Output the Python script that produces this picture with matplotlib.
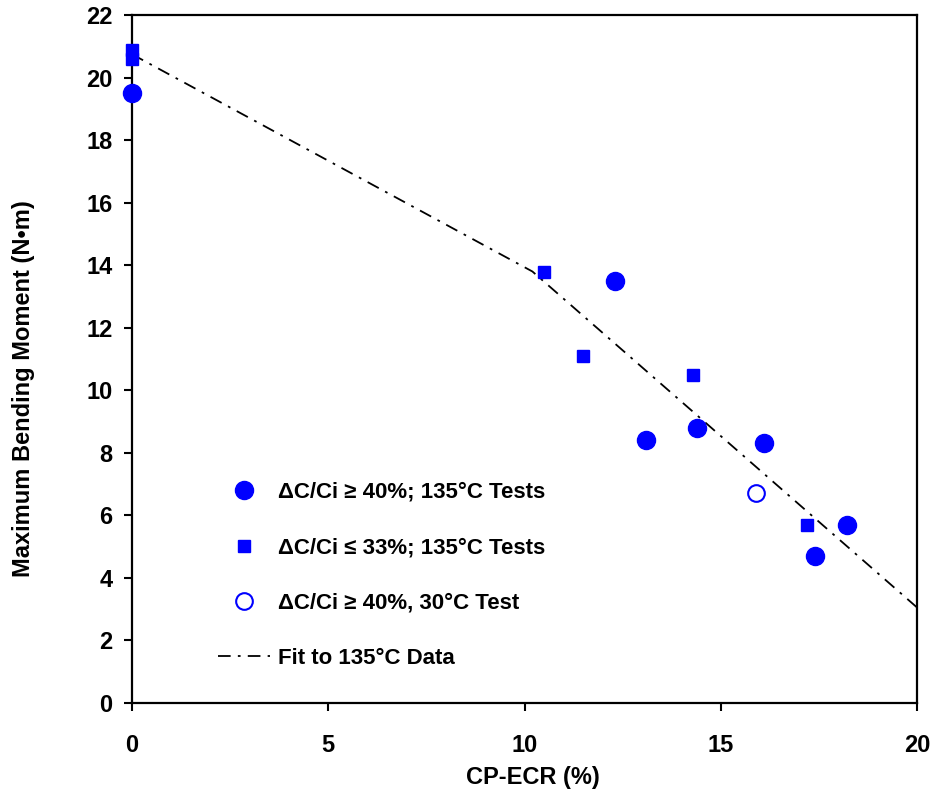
import matplotlib
matplotlib.use('Agg')
import matplotlib.pyplot as plt
import numpy as np

# dC/Ci >= 40%, 135C tests (filled circles)
circ_x = [0.0, 12.3, 13.1, 14.4, 16.1, 17.4, 18.2]
circ_y = [19.5, 13.5, 8.4, 8.8, 8.3, 4.7, 5.7]
# dC/Ci <= 33%, 135C tests (squares)
sq_x = [0.0, 0.0, 10.5, 11.5, 14.3, 17.2]
sq_y = [20.9, 20.6, 13.8, 11.1, 10.5, 5.7]
# dC/Ci >= 40%, 30C test (open circle)
open_x = [15.9]
open_y = [6.7]
# fit to 135C data
fit_x = [0.0, 10.2, 20.0]
fit_y = [20.75, 13.8, 3.05]

plt.rcParams['font.family'] = ['Liberation Sans', 'DejaVu Sans']
plt.rcParams['font.weight'] = 'bold'

fig = plt.figure(figsize=(9.32, 7.97), dpi=100)
ax = fig.add_axes([0.1416, 0.118, 0.8425, 0.863])

ax.plot(circ_x, circ_y, 'o', color='blue', markersize=13, linestyle='none',
        label='\u0394C/Ci \u2265 40%; 135\u00b0C Tests', clip_on=False, zorder=3)
ax.plot(sq_x, sq_y, 's', color='blue', markersize=8.5, linestyle='none',
        label='\u0394C/Ci \u2264 33%; 135\u00b0C Tests', clip_on=False, zorder=3)
ax.plot(open_x, open_y, 'o', markerfacecolor='white', markeredgecolor='blue',
        markeredgewidth=1.5, markersize=12, linestyle='none',
        label='\u0394C/Ci \u2265 40%, 30\u00b0C Test', zorder=3)
ax.plot(fit_x, fit_y, color='black', linewidth=1.3, dashes=(7, 4, 1.5, 4),
        label='Fit to 135\u00b0C Data', zorder=2)

ax.set_xlim(0, 20)
ax.set_ylim(0, 22)
ax.set_xticks(np.arange(0, 21, 5))
ax.set_yticks(np.arange(0, 23, 2))
ax.tick_params(direction='out', length=6, width=1.5, labelsize=17)
ax.tick_params(axis='x', pad=16)
ax.tick_params(axis='y', pad=8)
for lab in ax.get_xticklabels() + ax.get_yticklabels():
    lab.set_fontweight('bold')
for s in ax.spines.values():
    s.set_linewidth(1.6)

ax.set_xlabel('CP-ECR (%)', fontsize=17, fontweight='bold')
ax.set_ylabel('Maximum Bending Moment (N\u2022m)', fontsize=17, fontweight='bold')
ax.xaxis.set_label_coords(0.51, -0.091)
ax.yaxis.set_label_coords(-0.124, 0.457)

leg = ax.legend(loc='lower left', bbox_to_anchor=(0.1096, 0.049), frameon=False,
                prop={'weight': 'bold', 'size': 16},
                handlelength=2.35, handletextpad=0.36, labelspacing=1.55,
                borderpad=0, borderaxespad=0, numpoints=1)

fig.savefig('out.png', dpi=100)
